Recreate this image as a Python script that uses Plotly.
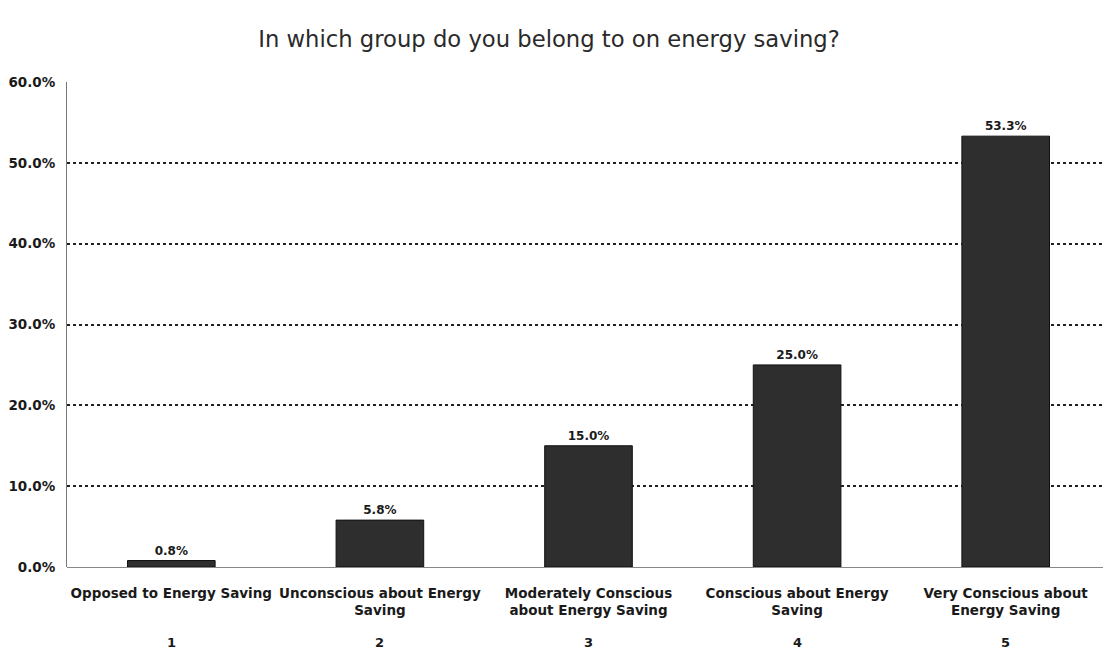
import plotly.graph_objects as go

categories = ["Opposed to Energy Saving", "Unconscious about Energy<br>Saving",
              "Moderately Conscious<br>about Energy Saving", "Conscious about Energy<br>Saving",
              "Very Conscious about<br>Energy Saving"]
codes = ["1", "2", "3", "4", "5"]
values = [0.8, 5.8, 15.0, 25.0, 53.3]
y_ticks = [0, 10, 20, 30, 40, 50, 60]
y_ticklabels = ["0.0%", "10.0%", "20.0%", "30.0%", "40.0%", "50.0%", "60.0%"]

x = list(range(len(categories)))
FONT = "DejaVu Sans, Arial, sans-serif"

fig = go.Figure()
fig.add_trace(go.Bar(
    x=x, y=values, width=0.42,
    marker=dict(color="#2e2e2e", line=dict(color="#111111", width=1)),
    text=[f"<b>{v:.1f}%</b>" for v in values], textposition="outside",
    textfont=dict(family=FONT, size=12, color="#1a1a1a"),
    cliponaxis=False,
))

for i, c in enumerate(codes):
    fig.add_annotation(x=i, y=-0.155, xref="x", yref="paper", text=f"<b>{c}</b>", showarrow=False,
                       yanchor="middle",
                       font=dict(family=FONT, size=13, color="#1a1a1a"))

# page body has an 8px margin, so the figure is sized/offset to compensate
fig.update_layout(
    width=1103, height=645,
    margin=dict(l=59, r=1, t=74, b=86),
    paper_bgcolor="white", plot_bgcolor="white",
    title=dict(text="In which group do you belong to on energy saving?", x=0.4905, xref="container",
               y=0.952, yref="container", xanchor="center", yanchor="middle",
               font=dict(family=FONT, size=22.7, color="#2a2a2a")),
    showlegend=False,
)
fig.update_xaxes(
    tickvals=x, ticktext=[f"<b>{c}</b>" for c in categories], range=[-0.5, 4.5],
    tickfont=dict(family=FONT, size=13.5, color="#1a1a1a"), ticklabelstandoff=16, tickangle=0,
    showgrid=False, showline=False, ticks="", zeroline=False, automargin=False,
)
fig.update_yaxes(
    range=[0, 60], tickvals=y_ticks, ticktext=[f"<b>{t}</b>" for t in y_ticklabels],
    tickfont=dict(family=FONT, size=13.5, color="#1a1a1a"), ticklabelstandoff=8,
    showgrid=True, gridcolor="#222222", griddash="dot", gridwidth=2,
    showline=True, linecolor="#777777", linewidth=1, ticks="",
    zeroline=True, zerolinecolor="#888888", zerolinewidth=1, automargin=False,
)
fig.write_html("out.html")
